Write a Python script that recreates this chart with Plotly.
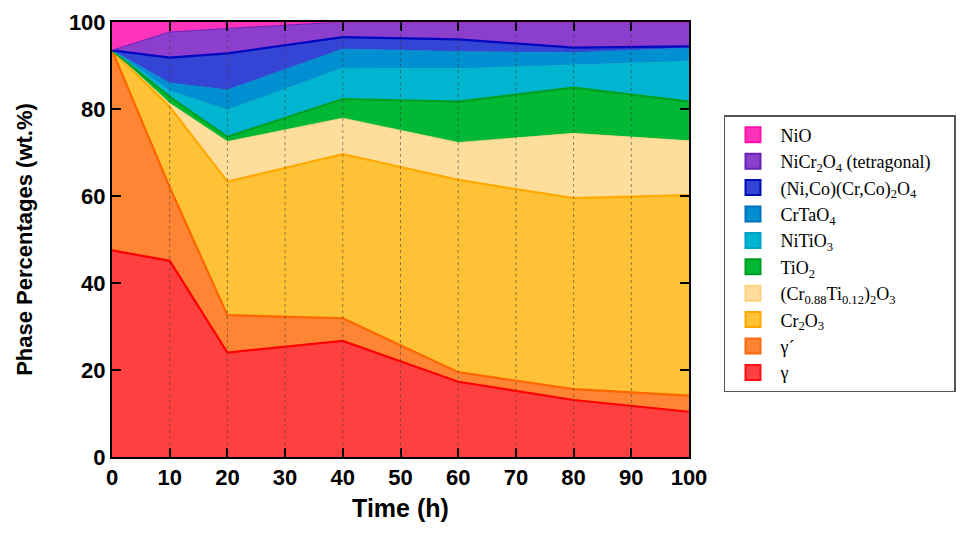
import plotly.graph_objects as go

time_h = [0, 10, 20, 40, 60, 80, 100]

gamma      = [47.5, 45.1, 24.0, 26.7, 17.3, 13.1, 10.4]
gamma_p    = [46.0, 16.9, 8.6, 5.2, 2.2, 2.5, 3.7]
cr2o3      = [0.0, 18.5, 30.7, 37.7, 44.2, 43.9, 46.1]
crti2o3    = [0.0, 0.8, 9.2, 8.3, 8.6, 14.9, 12.5]
tio2       = [0.0, 1.5, 1.1, 4.4, 9.4, 10.5, 9.0]
nitio3     = [0.0, 1.4, 6.2, 7.1, 7.6, 5.2, 9.3]
crtao4     = [0.0, 1.8, 4.6, 4.4, 3.9, 2.9, 3.0]
nico_spin  = [0.0, 5.8, 8.4, 2.7, 2.8, 1.1, 0.4]
nicr2o4    = [0.0, 5.9, 5.7, 3.5, 4.0, 5.9, 5.6]
nio        = [6.5, 2.3, 1.5, 0.0, 0.0, 0.0, 0.0]

names = ["γ", "γ´", "Cr<sub>2</sub>O<sub>3</sub>",
         "(Cr<sub>0.88</sub>Ti<sub>0.12</sub>)<sub>2</sub>O<sub>3</sub>",
         "TiO<sub>2</sub>", "NiTiO<sub>3</sub>", "CrTaO<sub>4</sub>",
         "(Ni,Co)(Cr,Co)<sub>2</sub>O<sub>4</sub>",
         "NiCr<sub>2</sub>O<sub>4</sub> (tetragonal)\u00a0\u00a0\u00a0\u00a0", "NiO"]
series = [gamma, gamma_p, cr2o3, crti2o3, tio2, nitio3, crtao4, nico_spin, nicr2o4, nio]
fills = ["#ff4040", "#ff8535", "#ffc135", "#ffdd9a", "#00b833", "#00b5d0",
         "#0090d2", "#3444d4", "#8c3fcc", "#ff33bb"]
lines = ["#ff0000", "#ff6600", "#ffaa00", "#ffd58a", "#00a020", "#00aac8",
         "#0085c8", "#0008c0", "#6a20b8", "#ff22aa"]
widths = [2.2, 2.2, 2.2, 0.8, 2.2, 0.8, 0.8, 2.2, 1.2, 0.8]
legend_edge = ["#ff1010", "#ff6a10", "#ffa500", "#ffd080", "#009a20", "#00a0c0",
               "#0070b8", "#0010b0", "#6a20b0", "#ff10a8"]

fig = go.Figure()
for nm, vals, fc, lc, w in zip(names, series, fills, lines, widths):
    fig.add_trace(go.Scatter(
        x=time_h, y=vals, name=nm, mode="lines", stackgroup="one",
        fillcolor=fc, line=dict(color=lc, width=w), showlegend=False,
    ))
# legend swatches
for nm, fc, ec in zip(names, fills, legend_edge):
    fig.add_trace(go.Scatter(
        x=[None], y=[None], name=nm, mode="markers",
        marker=dict(symbol="square", size=15, color=fc, line=dict(color=ec, width=2)),
    ))

grid_x = [10, 20, 30, 40, 50, 60, 70, 80, 90]
for gx in grid_x:
    fig.add_shape(type="line", xref="x", yref="paper", x0=gx, x1=gx, y0=0, y1=1,
                  line=dict(color="rgba(60,60,60,0.55)", width=1, dash="dot"),
                  layer="above")

tick_font = dict(family="Liberation Sans, Arial", size=22, color="black", weight="bold")
fig.update_layout(
    width=959, height=526,
    margin=dict(l=104, r=277, t=14, b=77),
    plot_bgcolor="white", paper_bgcolor="white",
    showlegend=True,
    legend=dict(
        x=1.0588, y=0.786, xanchor="left", yanchor="top",
        traceorder="reversed",
        font=dict(family="Liberation Serif, Times New Roman", size=18, color="black"),
        bordercolor="#555555", borderwidth=1.5, bgcolor="white",
        itemwidth=45,
    ),
    xaxis=dict(
        range=[0, 100], tickvals=[0, 10, 20, 30, 40, 50, 60, 70, 80, 90, 100],
        ticks="inside", ticklen=9, tickwidth=2, tickcolor="black",
        showline=True, linecolor="black", linewidth=2, mirror="ticks",
        showgrid=False, zeroline=False, automargin=False,
        tickfont=tick_font,
        title=dict(text="<b>Time (h)</b>",
                   font=dict(family="Liberation Sans, Arial", size=25, color="black"),
                   standoff=10),
        layer="above traces",
    ),
    yaxis=dict(
        range=[0, 100], tickvals=[0, 20, 40, 60, 80, 100],
        ticks="inside", ticklen=9, tickwidth=2, tickcolor="black",
        showline=True, linecolor="black", linewidth=2, mirror="ticks",
        showgrid=False, zeroline=False, automargin=False,
        tickfont=tick_font,
        title=dict(text="<b>Phase Percentages (wt.%)</b>",
                   font=dict(family="Liberation Sans, Arial", size=22, color="black"),
                   standoff=30),
        layer="above traces",
    ),
)

fig.write_html("out.html")
